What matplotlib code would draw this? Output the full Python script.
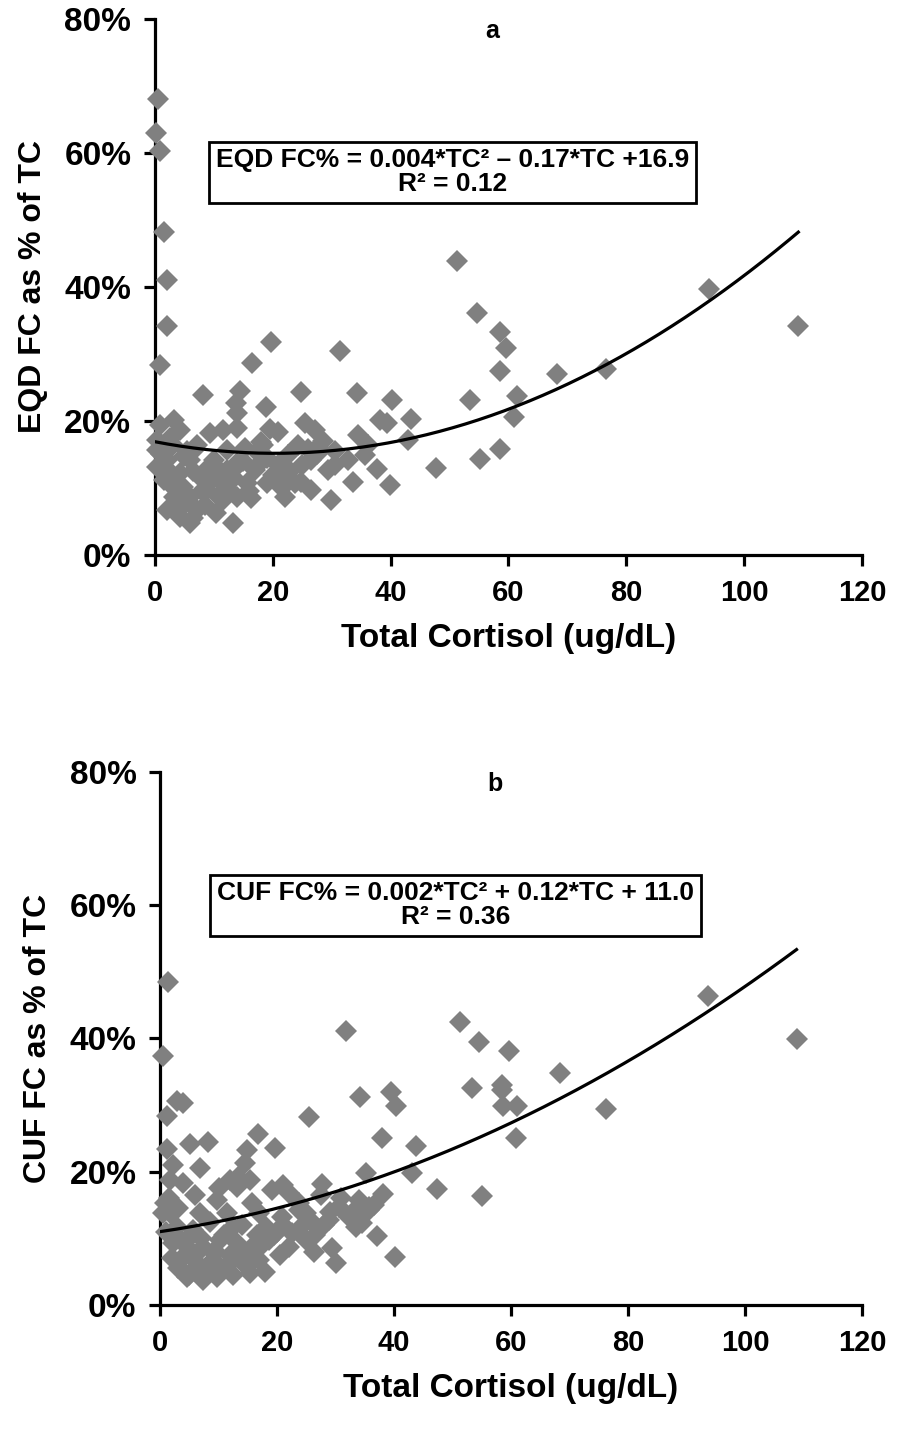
import numpy as np
import matplotlib
matplotlib.use("Agg")
import matplotlib.pyplot as plt

plt.rcParams['font.family'] = ['Liberation Sans', 'DejaVu Sans']
plt.rcParams['font.weight'] = 'bold'

# panel a: EQD free cortisol vs total cortisol
eqd_tc = [0.6, 0.1, 0.9, 1.6, 2.1, 2.1, 0.9, 8.1, 16.4, 19.7, 31.4, 14.4, 13.7, 14.0,
          18.8, 24.8, 34.3, 40.3, 43.5, 38.2, 39.4, 0.9, 3.3, 4.2, 9.4, 11.5, 14.0, 19.5,
          20.9, 25.4, 27.1, 34.5, 43.0, 36.2, 35.7, 32.8, 29.4, 27.7, 26.5, 37.7, 47.7,
          33.6, 39.9, 26.5, 29.9, 24.8, 15.2, 0.4, 0.3, 2.1, 6.0, 10.1, 14.0, 16.9, 1.6,
          4.3, 7.7, 11.1, 15.7, 19.1, 22.6, 3.3, 6.0, 14.0, 16.3, 2.1, 4.3, 5.9, 10.3,
          13.2, 7.2, 23.7, 22.0, 51.2, 54.7, 58.5, 59.5, 58.5, 68.3, 76.5, 94.0, 109.2,
          53.5, 61.5, 61.0, 58.6, 55.1, 3.0, 7.2, 12.3, 18.3, 4.7, 8.9, 12.3, 20.9, 22.6,
          24.3, 3.8, 11.5, 0.4, 1.3, 5.0, 9.0, 12.8, 17.5, 21.0, 26.0, 30.5, 8.5, 13.0,
          18.0, 2.8, 6.5, 1.0, 2.5, 5.5, 6.5, 8.0, 9.5, 10.5, 12.0, 13.5, 15.0, 16.0,
          17.5, 19.0, 20.0, 21.5, 23.0, 25.0, 27.5, 28.5, 30.5, 4.5, 6.5, 8.5, 11.0, 3.0]
eqd_fc = [68.1, 63.0, 60.3, 48.2, 41.0, 34.2, 28.4, 23.9, 28.7, 31.8, 30.4, 24.5, 22.7,
          21.2, 22.1, 24.3, 24.2, 23.1, 20.3, 20.1, 19.7, 19.4, 20.1, 18.7, 18.2, 18.7,
          19.0, 18.8, 18.4, 19.7, 18.7, 17.9, 17.2, 16.4, 14.9, 14.2, 12.7, 16.1, 14.2,
          12.8, 13.0, 10.9, 10.4, 9.7, 8.2, 10.9, 16.0, 15.7, 13.1, 14.2, 14.2, 14.2,
          13.7, 12.7, 11.2, 12.2, 11.6, 11.2, 10.7, 10.7, 11.2, 8.7, 8.7, 8.7, 8.5, 6.7,
          5.7, 4.8, 6.3, 4.8, 6.7, 10.7, 8.7, 43.9, 36.1, 33.3, 30.9, 27.5, 27.0, 27.8,
          39.7, 34.2, 23.1, 23.7, 20.6, 15.8, 14.3, 16.4, 16.4, 15.7, 16.4, 10.1, 9.7,
          12.7, 13.4, 14.9, 16.4, 7.5, 8.2, 17.2, 12.7, 14.8, 13.0, 9.5, 15.2, 12.0,
          15.8, 13.5, 11.0, 12.5, 16.8, 10.5, 15.5, 15.0, 17.5, 15.5, 12.5, 9.5, 11.0,
          13.0, 10.0, 11.5, 14.0, 9.5, 13.5, 14.5, 12.0, 10.0, 12.5, 13.5, 15.0, 17.0,
          15.5, 7.0, 5.5, 7.5, 8.5, 12.0]

# panel b: CUF free cortisol vs total cortisol
cuf_tc = [1.4, 0.5, 2.9, 3.9, 1.2, 31.8, 25.5, 16.7, 34.2, 39.5, 40.3, 38.0, 43.7, 1.2,
          5.1, 8.2, 19.6, 14.8, 2.2, 6.8, 1.7, 3.9, 14.5, 13.3, 15.3, 35.2, 43.1, 47.3,
          38.1, 37.1, 40.2, 30.1, 29.4, 26.4, 51.2, 54.6, 59.6, 68.3, 58.4, 58.4, 53.4,
          58.6, 61.1, 76.3, 93.6, 108.8, 60.8, 55.0, 27.7, 34.0, 35.7, 32.3, 34.6, 35.7,
          33.5, 28.9, 25.0, 23.8, 25.0, 30.6, 13.1, 11.9, 9.7, 0.9, 1.7, 6.8, 11.4, 15.8,
          19.2, 22.1, 17.0, 20.9, 23.8, 2.2, 4.6, 7.3, 10.2, 13.1, 15.8, 18.7, 22.1, 3.4,
          6.3, 9.0, 11.9, 14.8, 17.0, 4.6, 7.3, 9.7, 15.3, 2.9, 5.6, 12.4, 18.2, 22.6,
          0.5, 8.5, 20.0, 3.0, 12.0, 16.5, 26.5, 9.0, 5.0, 1.0, 2.0, 3.5, 5.0, 6.0, 8.0,
          10.5, 12.5, 13.5, 16.0, 17.5, 19.5, 21.0, 24.0, 26.5, 28.0, 11.0, 14.0, 7.0,
          4.0, 9.5, 18.0, 20.5, 1.5, 3.0, 6.0, 10.0, 21.0, 27.5, 31.0, 33.0, 36.5, 29.0]
cuf_fc = [48.5, 37.4, 30.6, 30.3, 28.4, 41.1, 28.2, 25.7, 31.2, 32.0, 29.9, 25.1, 23.9,
          23.4, 24.2, 24.5, 23.6, 23.3, 21.0, 20.6, 18.8, 18.3, 21.3, 19.2, 18.8, 19.8,
          19.8, 17.4, 16.7, 10.4, 7.2, 6.3, 8.6, 8.0, 42.5, 39.5, 38.1, 34.8, 33.0, 32.3,
          32.6, 29.9, 29.9, 29.4, 46.4, 39.9, 25.1, 16.4, 18.2, 15.8, 14.7, 13.2, 12.3,
          14.3, 11.7, 12.8, 13.8, 15.3, 9.8, 14.7, 17.7, 18.8, 15.8, 15.3, 13.8, 13.8,
          13.8, 15.3, 17.3, 16.8, 13.8, 13.2, 14.3, 9.3, 8.7, 8.7, 9.8, 9.3, 8.7, 9.8,
          8.7, 6.8, 6.3, 6.8, 6.3, 5.7, 6.8, 4.2, 3.8, 4.2, 4.8, 11.7, 11.3, 11.7, 11.7,
          10.8, 13.8, 12.5, 11.0, 5.5, 7.5, 10.5, 12.0, 8.0, 10.0, 11.0, 7.0, 5.5, 4.5,
          7.5, 5.0, 5.5, 4.5, 7.5, 7.0, 9.0, 10.5, 12.0, 11.5, 10.5, 12.0, 10.5, 12.0,
          10.0, 9.5, 8.0, 5.0, 7.5, 16.0, 14.5, 16.5, 17.5, 18.0, 16.5, 16.0, 14.0,
          15.0, 14.0]

# quadratic trend lines (highest power first)
eqd_coef = [0.00418, -0.17, 16.9]
cuf_coef = [0.0024, 0.128, 11.0]

eqd_text = "EQD FC% = 0.004*TC\u00b2 \u2013 0.17*TC +16.9\nR\u00b2 = 0.12"
cuf_text = "CUF FC% = 0.002*TC\u00b2 + 0.12*TC + 11.0\nR\u00b2 = 0.36"

x_ticks = [0, 20, 40, 60, 80, 100, 120]
y_ticks = [0, 20, 40, 60, 80]
y_ticklabels = ["0%", "20%", "40%", "60%", "80%"]

fig = plt.figure(figsize=(9.02, 14.34), dpi=100)
ax_a = fig.add_axes([0.1718, 0.6130, 0.7838, 0.3738])
ax_b = fig.add_axes([0.1774, 0.0900, 0.7783, 0.3717])

panels = [
    (ax_a, eqd_tc, eqd_fc, eqd_coef, eqd_text, "a", "EQD FC as % of TC", 0.7136),
    (ax_b, cuf_tc, cuf_fc, cuf_coef, cuf_text, "b", "CUF FC as % of TC", 0.750),
]

for ax, tc, fc, coef, eq, tag, ylab, box_y in panels:
    ax.plot(tc, fc, 'D', color='#808080', markersize=11, markeredgewidth=0,
            clip_on=False, zorder=3)

    xs = np.linspace(0, max(tc), 200)
    ax.plot(xs, np.polyval(coef, xs), '-', color='black', linewidth=2.3, zorder=4)

    ax.set_xlim(0, 120)
    ax.set_ylim(0, 80)
    ax.set_xticks(x_ticks)
    ax.set_xticklabels([str(v) for v in x_ticks], fontsize=21, fontweight='bold')
    ax.set_yticks(y_ticks)
    ax.set_yticklabels(y_ticklabels, fontsize=24, fontweight='heavy')

    for side in ['top', 'right']:
        ax.spines[side].set_visible(False)
    for side in ['left', 'bottom']:
        ax.spines[side].set_linewidth(2.3)
    ax.tick_params(direction='out', length=8, width=2.3, pad=9)

    ax.set_xlabel("Total Cortisol (ug/dL)", fontsize=24, fontweight='heavy', labelpad=12)
    ax.set_ylabel(ylab, fontsize=23, fontweight='heavy', labelpad=12)

    ax.text(0.477, 1.0, tag, transform=ax.transAxes, ha='center', va='top',
            fontsize=18, fontweight='bold')

    ax.text(0.421, box_y, eq, transform=ax.transAxes, ha='center', va='center',
            multialignment='center', fontsize=19, fontweight='bold', linespacing=1.0,
            bbox=dict(boxstyle='square,pad=0.25', facecolor='white', edgecolor='black',
                      linewidth=2), zorder=5)

fig.savefig("out.png", dpi=100)
